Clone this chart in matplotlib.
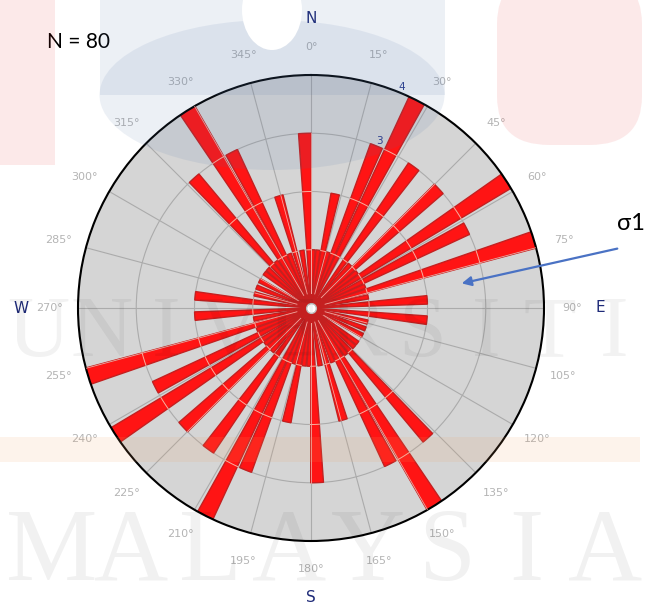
import numpy as np
import matplotlib.pyplot as plt
from matplotlib.patches import Rectangle, Ellipse, FancyBboxPatch

W, H = 652, 608

# one half of the bidirectional rose (deg, count); the other half is the same +180
half_angles = [2, 7, 12, 17, 22, 27, 36, 42, 47, 52, 57, 63, 68, 73, 79, 86,
               96, 104, 111, 118, 127, 132, 138, 143, 148, 153, 158, 164, 171, 178]
half_counts = [1, 1, 2, 1, 3, 4, 3, 1, 3, 1, 4, 3, 1, 4, 1, 2,
               2, 1, 1, 1, 1, 1, 3, 1, 4, 3, 1, 2, 1, 3]
bin_width = 4.2
ring_values = [1, 2, 3, 4]
tick_degrees = list(range(0, 360, 15))
compass = {'N': 0, 'E': 90, 'S': 180, 'W': 270}
n_text = 'N = 80'
sigma_text = 'σ1'

angles = np.array(half_angles + [a + 180 for a in half_angles])
counts = np.array(half_counts + half_counts)


def px(x, y):
    # pixel position (top-left origin) -> figure fraction
    return x / W, 1 - y / H


fig = plt.figure(figsize=(W / 100, H / 100), dpi=100)
fig.patch.set_facecolor('white')

# rose diagram
cx, cy, rad = 311, 308, 233
ax = fig.add_axes([(cx - rad) / W, (H - cy - rad) / H, 2 * rad / W, 2 * rad / H],
                  projection='polar')
ax.set_theta_zero_location('N')
ax.set_theta_direction(-1)
ax.set_ylim(0, 4)
ax.set_facecolor('#d5d5d5')
ax.set_axisbelow(True)
ax.set_thetagrids(tick_degrees, [f'{d}°' for d in tick_degrees],
                  color='#b4b4b4', fontsize=8)
ax.tick_params(axis='x', pad=10)
ax.set_rgrids(ring_values, [str(v) for v in ring_values], angle=22,
              color='#2a3a8c', fontsize=7.5)
ax.grid(color='#ababab', lw=0.8)
ax.spines['polar'].set_color('black')
ax.spines['polar'].set_linewidth(1.5)

ax.bar(np.deg2rad(angles), counts, width=np.deg2rad(bin_width),
       color='#ff1414', edgecolor='#c42020', linewidth=1.0, zorder=2)

# light grid lines showing over the bars
half_span = bin_width / 2 + 0.3
for a, c in zip(angles, counts):
    for r in ring_values:
        if r < c:
            th = np.linspace(a - half_span, a + half_span, 10)
            ax.plot(np.deg2rad(th), [r] * 10, color='#f6b0a0', lw=0.7, zorder=3)
    for g in tick_degrees:
        if abs(((g - a + 180) % 360) - 180) < half_span:
            ax.plot([np.deg2rad(g)] * 2, [0.25, c], color='#f2a8a0', lw=0.6, zorder=3)

ax.plot(0, 0, 'o', color='white', ms=7, mec='#bbbbbb', zorder=4)

for k, d in compass.items():
    ax.text(np.deg2rad(d), 4.97, k, color='#1e2a78', fontsize=11,
            ha='center', va='center', clip_on=False)

# labels and stress arrow
fig.text(*px(47, 42), n_text, fontsize=15, family=['Lato', 'DejaVu Sans'], va='center')
fig.text(*px(617, 224), sigma_text, fontsize=17, family=['Lato', 'DejaVu Sans'], va='center')
ax.annotate('', xy=(459, H - 284), xycoords='figure pixels',
            xytext=(620, H - 248), textcoords='figure pixels',
            arrowprops=dict(arrowstyle='-|>', color='#4a72c4', lw=1.6, mutation_scale=14),
            annotation_clip=False)

# faint logo watermark on top
tf = fig.transFigure
fig.add_artist(Rectangle(px(0, 165), 55 / W, 165 / H, transform=tf,
                         color='#e83030', alpha=0.1, lw=0, zorder=5))
fig.add_artist(FancyBboxPatch(px(497, 145), 145 / W, 170 / H, transform=tf,
                              boxstyle='round,pad=0,rounding_size=0.08',
                              color='#e83030', alpha=0.1, lw=0, zorder=5))
fig.add_artist(Rectangle(px(100, 95), 345 / W, 100 / H, transform=tf,
                         color='#4a6fa5', alpha=0.1, lw=0, zorder=5))
fig.add_artist(Ellipse(px(272, 95), 345 / W, 150 / H, transform=tf,
                       color='#4a6fa5', alpha=0.1, lw=0, zorder=5))
fig.add_artist(Ellipse(px(272, 10), 60 / W, 80 / H, transform=tf,
                       color='white', lw=0, zorder=5.5))
fig.add_artist(Rectangle(px(0, 462), 640 / W, 25 / H, transform=tf,
                         color='#f0a060', alpha=0.12, lw=0, zorder=5))
for i, ch in enumerate('UNIVERSITI'):
    fig.text(*px(38 + i * 64, 335), ch, fontsize=62, family='Liberation Serif',
             color='black', alpha=0.05, ha='center', va='center', zorder=6)
for i, ch in enumerate('MALAYSIA'):
    fig.text(*px(52 + i * 79, 555), ch, fontsize=74, family='Liberation Serif',
             color='black', alpha=0.055, ha='center', va='center', zorder=6)

fig.savefig('out.png', dpi=100)
